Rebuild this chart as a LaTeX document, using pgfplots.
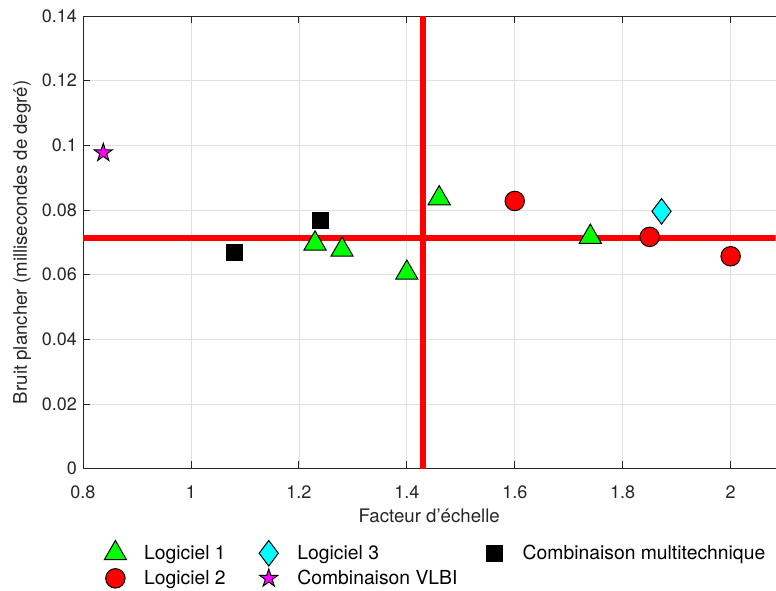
\documentclass[border=0pt]{standalone}
\usepackage{pgfplots}
\pgfplotsset{compat=1.18}
\usepackage{fontspec}
\setmainfont{TeX Gyre Heros}
\definecolor{axgray}{gray}{0.15}
\definecolor{gridgray}{gray}{0.88}
\definecolor{mgreen}{rgb}{0,1,0}
\definecolor{mred}{rgb}{1,0,0}
\definecolor{mcyan}{rgb}{0,1,1}
\definecolor{mmagenta}{rgb}{1,0,1}
\pgfdeclareplotmark{pentagram}{%
  \pgfpathmoveto{\pgfpointpolar{90}{\pgfplotmarksize}}%
  \pgfpathlineto{\pgfpointpolar{126}{0.382\pgfplotmarksize}}%
  \pgfpathlineto{\pgfpointpolar{162}{\pgfplotmarksize}}%
  \pgfpathlineto{\pgfpointpolar{198}{0.382\pgfplotmarksize}}%
  \pgfpathlineto{\pgfpointpolar{234}{\pgfplotmarksize}}%
  \pgfpathlineto{\pgfpointpolar{270}{0.382\pgfplotmarksize}}%
  \pgfpathlineto{\pgfpointpolar{306}{\pgfplotmarksize}}%
  \pgfpathlineto{\pgfpointpolar{342}{0.382\pgfplotmarksize}}%
  \pgfpathlineto{\pgfpointpolar{18}{\pgfplotmarksize}}%
  \pgfpathlineto{\pgfpointpolar{54}{0.382\pgfplotmarksize}}%
  \pgfpathclose
  \pgfusepathqfillstroke}
\begin{document}
\begin{tikzpicture}
\begin{axis}[
  scale only axis,
  width=519.75pt, height=339.75pt,
  xmin=0.8, xmax=2.0833, ymin=0, ymax=0.14,
  xtick={0.8,1,1.2,1.4,1.6,1.8,2},
  ytick={0,0.02,0.04,0.06,0.08,0.1,0.12,0.14},
  xticklabels={0.8,1,1.2,1.4,1.6,1.8,2},
  yticklabels={0,0.02,0.04,0.06,0.08,0.1,0.12,0.14},
  axis x line=box, axis y line*=left,
  xtick pos=both, ytick pos=left,
  tick align=inside, major tick length=5.5pt,
  axis line style={axgray, line width=0.6pt},
  tick style={axgray, line width=0.6pt},
  grid=major, major grid style={gridgray, line width=0.5pt},
  ticklabel style={font=\fontsize{13.5}{15}\selectfont, text=axgray},
  xticklabel style={yshift=-9pt},
  yticklabel style={xshift=-1pt},
  /pgf/number format/assume math mode=true,
  xlabel={Facteur d'échelle},
  ylabel={Bruit plancher (millisecondes de degré)},
  label style={font=\fontsize{14}{16}\selectfont, text=axgray},
  xlabel style={at={(axis description cs:0.5,-0.105)}, anchor=center},
  ylabel style={at={(axis description cs:-0.088,0.5)}, anchor=center, rotate=0},
  legend columns=3,
  legend style={at={(axis description cs:0.03,-0.165)}, anchor=north west, draw=none, fill=none,
    font=\fontsize{14.5}{16}\selectfont, inner sep=0pt, row sep=4.5pt,
    /tikz/every odd column/.append style={column sep=12pt},
    nodes={inner sep=1pt, anchor=west}},
  legend cell align=left,
  legend image code/.code={\pgfpathrectangle{\pgfpoint{-0.3cm}{-0.1cm}}{\pgfpoint{0.6cm}{0.2cm}}\pgfusepath{use as bounding box}\draw[#1] plot coordinates {(0cm,0cm)};},
]
% reference lines
\addplot[mred, line width=4.5pt, forget plot] coordinates {(1.43,0) (1.43,0.14)};
\addplot[mred, line width=4.5pt, forget plot] coordinates {(0.8,0.0713) (2.0833,0.0713)};
% Logiciel 1
\addplot[only marks, mark=triangle*, mark size=9.6pt, mark options={fill=mgreen, draw=black, line width=0.75pt}]
  coordinates {(1.23,0.0696) (1.28,0.0677) (1.40,0.0606) (1.46,0.0836) (1.74,0.0717)};
\addlegendentry{\makebox[84pt][l]{Logiciel 1}}
% Logiciel 3
\addplot[only marks, mark=diamond*, mark size=9.6pt, mark options={fill=mcyan, draw=black, line width=0.75pt}]
  coordinates {(1.872,0.0796)};
\addlegendentry{\makebox[138pt][l]{Logiciel 3}}
% Combinaison multitechnique
\addplot[only marks, mark=square*, mark size=6pt, mark options={fill=black, draw=black, line width=0.75pt}]
  coordinates {(1.08,0.0668) (1.24,0.0767)};
\addlegendentry{Combinaison multitechnique}
% Logiciel 2
\addplot[only marks, mark=*, mark size=7.3pt, mark options={fill=mred, draw=black, line width=0.75pt}]
  coordinates {(1.60,0.0828) (1.85,0.0717) (2.00,0.0657)};
\addlegendentry{\makebox[84pt][l]{Logiciel 2}}
% Combinaison VLBI
\addplot[only marks, mark=pentagram, mark size=7.1pt, mark options={fill=mmagenta, draw=black, line width=0.75pt}]
  coordinates {(0.8376,0.0977)};
\addlegendentry{\makebox[138pt][l]{Combinaison VLBI}}
\coordinate (bl) at (axis description cs:-0.1198,-0.2693);
\coordinate (tr) at (axis description cs:1,1.0353);
\end{axis}
\path (bl) rectangle (tr);
\end{tikzpicture}
\end{document}
